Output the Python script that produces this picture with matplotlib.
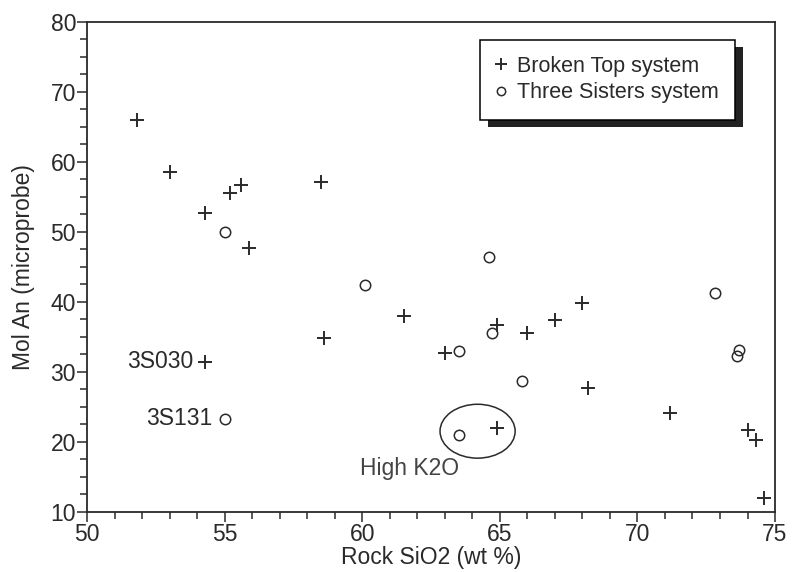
import matplotlib
matplotlib.use("Agg")
import matplotlib.pyplot as plt
from matplotlib.patches import Ellipse, Rectangle
from matplotlib.transforms import IdentityTransform
from matplotlib.ticker import MultipleLocator

plt.rcParams['font.family'] = ['Liberation Sans', 'DejaVu Sans']

# Broken Top system samples: rock SiO2 (wt %) vs plagioclase Mol An
bt_sio2 = [51.8, 53.0, 54.3, 55.2, 55.6, 55.9, 58.5, 58.6, 61.5, 63.0,
           64.9, 66.0, 67.0, 68.0, 68.2, 71.2, 74.0, 74.3, 74.6, 54.3, 64.9]
bt_an = [66.0, 58.6, 52.7, 55.5, 56.7, 47.7, 57.1, 34.8, 38.0, 32.7,
         36.7, 35.6, 37.4, 39.8, 27.7, 24.1, 21.7, 20.3, 11.9, 31.4, 22.0]

# Three Sisters system samples
ts_sio2 = [55.0, 60.1, 63.5, 64.6, 64.7, 65.8, 72.8, 73.7, 73.6, 55.0, 63.5]
ts_an = [50.0, 42.4, 33.0, 46.4, 35.6, 28.7, 41.3, 33.1, 32.2, 23.3, 20.9]

# labelled samples
labels = ["3S030", "3S131"]
label_sio2 = [54.3, 55.0]
label_an = [31.4, 23.3]

# high-K2O group outline
hk_center = (64.19, 21.5)
hk_width = 2.73
hk_height = 7.7

ink = "#2a2a2a"
fs = 16.5

fig = plt.figure(figsize=(7.92, 5.72), dpi=100)
ax = fig.add_axes([0.110, 0.1054, 0.8686, 0.8566])

bt, = ax.plot(bt_sio2, bt_an, linestyle="none", marker="+", markersize=10,
              markeredgewidth=1.4, color=ink, label="Broken Top system")
ts, = ax.plot(ts_sio2, ts_an, linestyle="none", marker="o", markersize=7.5,
              markeredgewidth=1.1, markerfacecolor="none", color=ink,
              label="Three Sisters system")

for name, x, y in zip(labels, label_sio2, label_an):
    ax.annotate(name, (x, y), xytext=(-9, 0), textcoords="offset points",
                ha="right", va="center", fontsize=fs, color=ink)

ax.add_patch(Ellipse(hk_center, hk_width, hk_height, fill=False,
                     edgecolor=ink, linewidth=1.1))
ax.text(61.7, 16.2, "High K2O", ha="center", va="center", fontsize=fs,
        color="#444444")

ax.set_xlim(50, 75)
ax.set_ylim(10, 80)
ax.xaxis.set_major_locator(MultipleLocator(5))
ax.xaxis.set_minor_locator(MultipleLocator(1))
ax.yaxis.set_major_locator(MultipleLocator(10))
ax.yaxis.set_minor_locator(MultipleLocator(2.5))
ax.tick_params(which="major", direction="out", length=7, width=1.1,
               labelsize=fs, pad=1, color=ink, labelcolor=ink)
ax.tick_params(which="minor", direction="out", length=5, width=1.1, color=ink)
for sp in ax.spines.values():
    sp.set_linewidth(1.3)
    sp.set_color(ink)

ax.set_xlabel("Rock SiO2 (wt %)", fontsize=fs, color=ink, labelpad=0)
ax.set_ylabel("Mol An (microprobe)", fontsize=fs, color=ink, labelpad=11)

leg = ax.legend(handles=[bt, ts], loc="upper right",
                bbox_to_anchor=(0.942, 0.963), fontsize=15.5, frameon=True,
                fancybox=False, framealpha=1, edgecolor="black",
                borderpad=0.75, handlelength=0.5, handletextpad=0.5,
                labelspacing=0.25, borderaxespad=0, markerscale=0.8)
leg.get_frame().set_linewidth(1.1)
for t in leg.get_texts():
    t.set_color(ink)
leg.set_zorder(6)

# drop shadow behind the legend box
fig.canvas.draw()
bb = leg.get_window_extent()
shadow = Rectangle((bb.x0 + 8, bb.y0 - 7), bb.width, bb.height,
                   transform=IdentityTransform(), facecolor="#222222",
                   edgecolor="none", zorder=5, clip_on=False)
ax.add_artist(shadow)

fig.savefig("out.png", dpi=100)
